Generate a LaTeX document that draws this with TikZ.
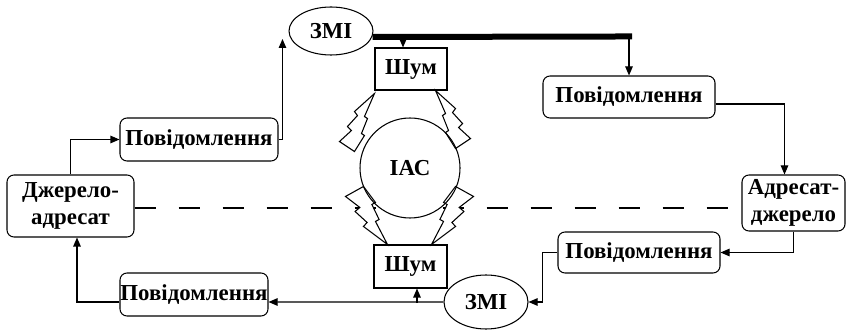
\documentclass[tikz,border=0pt]{standalone}
\usepackage{fontspec}
\setmainfont{Liberation Serif}[BoldFont={Liberation Serif Bold}]
\newfontfamily\tnr{Liberation Serif}[BoldFont={Liberation Serif Bold}]
\usetikzlibrary{arrows.meta,calc,shapes.geometric}
\begin{document}
\begin{tikzpicture}[x=0.2mm,y=-0.2mm,line width=0.6pt,
  txt/.style={font=\tnr\fontsize{13}{15}\selectfont\bfseries},
  rbox/.style={draw,rounded corners=1.4mm,txt,inner sep=0pt,align=center},
  sbox/.style={draw,txt,inner sep=0pt},
  ell/.style={draw,ellipse,txt,inner sep=0pt},
  arr/.style={-{Triangle[length=1.8mm,width=1.5mm]}},
  dline/.style={dash pattern=on 4.2mm off 4.6mm},
  boltpath/.style={insert path={(0,0) -- (10,23) -- (7,25) -- (13,40) -- (10,42) -- (20,58) -- (35,48) -- (23,37) -- (27,33) -- (17,22) -- (20,18) -- cycle}},
  bolt/.pic={\draw[line join=miter,boltpath];},
  boltfill/.pic={\fill[white,boltpath];}]
\useasboundingbox (0,0) rectangle (846,330);

% nodes
\node[rbox,minimum width=25.4mm,minimum height=12.4mm] (dj) at (70.5,206) {Джерело-\\адресат};
\node[rbox,minimum width=31.6mm,minimum height=8.6mm] (tl) at (199,139.5) {Повідомлення};
\node[ell,minimum width=16.8mm,minimum height=9.6mm] (z1) at (331,31) {ЗМІ};
\node[sbox,minimum width=14.4mm,minimum height=8.4mm] (s1) at (411,69) {Шум};
\node[rbox,minimum width=34.4mm,minimum height=8.4mm] (tr) at (629,97) {Повідомлення};
\node[rbox,minimum width=20.6mm,minimum height=11.2mm] (ad) at (793.5,203) {Адресат-\\джерело};
\node[rbox,minimum width=32.4mm,minimum height=8.2mm] (br) at (639,252.5) {Повідомлення};
\node[ell,minimum width=16.8mm,minimum height=10.8mm] (z2) at (486,302) {ЗМІ};
\node[sbox,minimum width=14.6mm,minimum height=8.6mm] (s2) at (410.5,266.5) {Шум};
\node[rbox,minimum width=29.6mm,minimum height=8.6mm] (bl) at (194,294.5) {Повідомлення};

% dashed line behind the circle and bolts
\draw[dline] ($(dj.east)+(0,2)$) -- ($(ad.west)+(0,5)$);
\pic[xscale=1.2,yscale=-1] at ($(s2.north east)+(-16,0)$) {boltfill};
\pic[xscale=-1.2,yscale=-1] at ($(s2.north west)+(14,0)$) {boltfill};
\node[draw,circle,fill=white,txt,minimum size=20mm,inner sep=0pt] (iac) at (410,168) {ІАС};

% lightning bolts
\pic at ($(s1.south east)+(-12,0)$) {bolt};
\pic[xscale=-1] at ($(s1.south west)+(0,3)$) {bolt};
\pic[xscale=1.2,yscale=-1] at ($(s2.north east)+(-16,0)$) {bolt};
\pic[xscale=-1.2,yscale=-1] at ($(s2.north west)+(14,0)$) {bolt};

% connectors
\draw[arr] (dj.north) |- (tl.west);
\draw[arr] (tl.east) -| ($(z1.west)+(-6,8)$);
\draw[line width=1.2mm] ($(z1.east)+(-1,6)$) -- ($(tr.north)+(3,-39)$);
\draw[arr] ($(tr.north)+(0,-37)$) -- (tr.north);
\draw[arr] ($(s1.north)+(-8,-8)$) -- ($(s1.north)+(-8,0)$);
\draw[arr] ($(tr.east)+(0,7)$) -| ($(ad.north)+(-9,0)$);
\draw[arr] (ad.south) |- (br.east);
\draw[arr] (br.west) -- ++(-15,0) |- (z2.east);
\draw[arr] (z2.west) -- ($(bl.east)+(0,7.5)$);
\draw[arr] ($(s2.south)+(6.5,14)$) -- ($(s2.south)+(6.5,0)$);
\draw[arr] ($(bl.west)+(0,7.5)$) -| ($(dj.south)+(6.5,0)$);
\end{tikzpicture}
\end{document}
